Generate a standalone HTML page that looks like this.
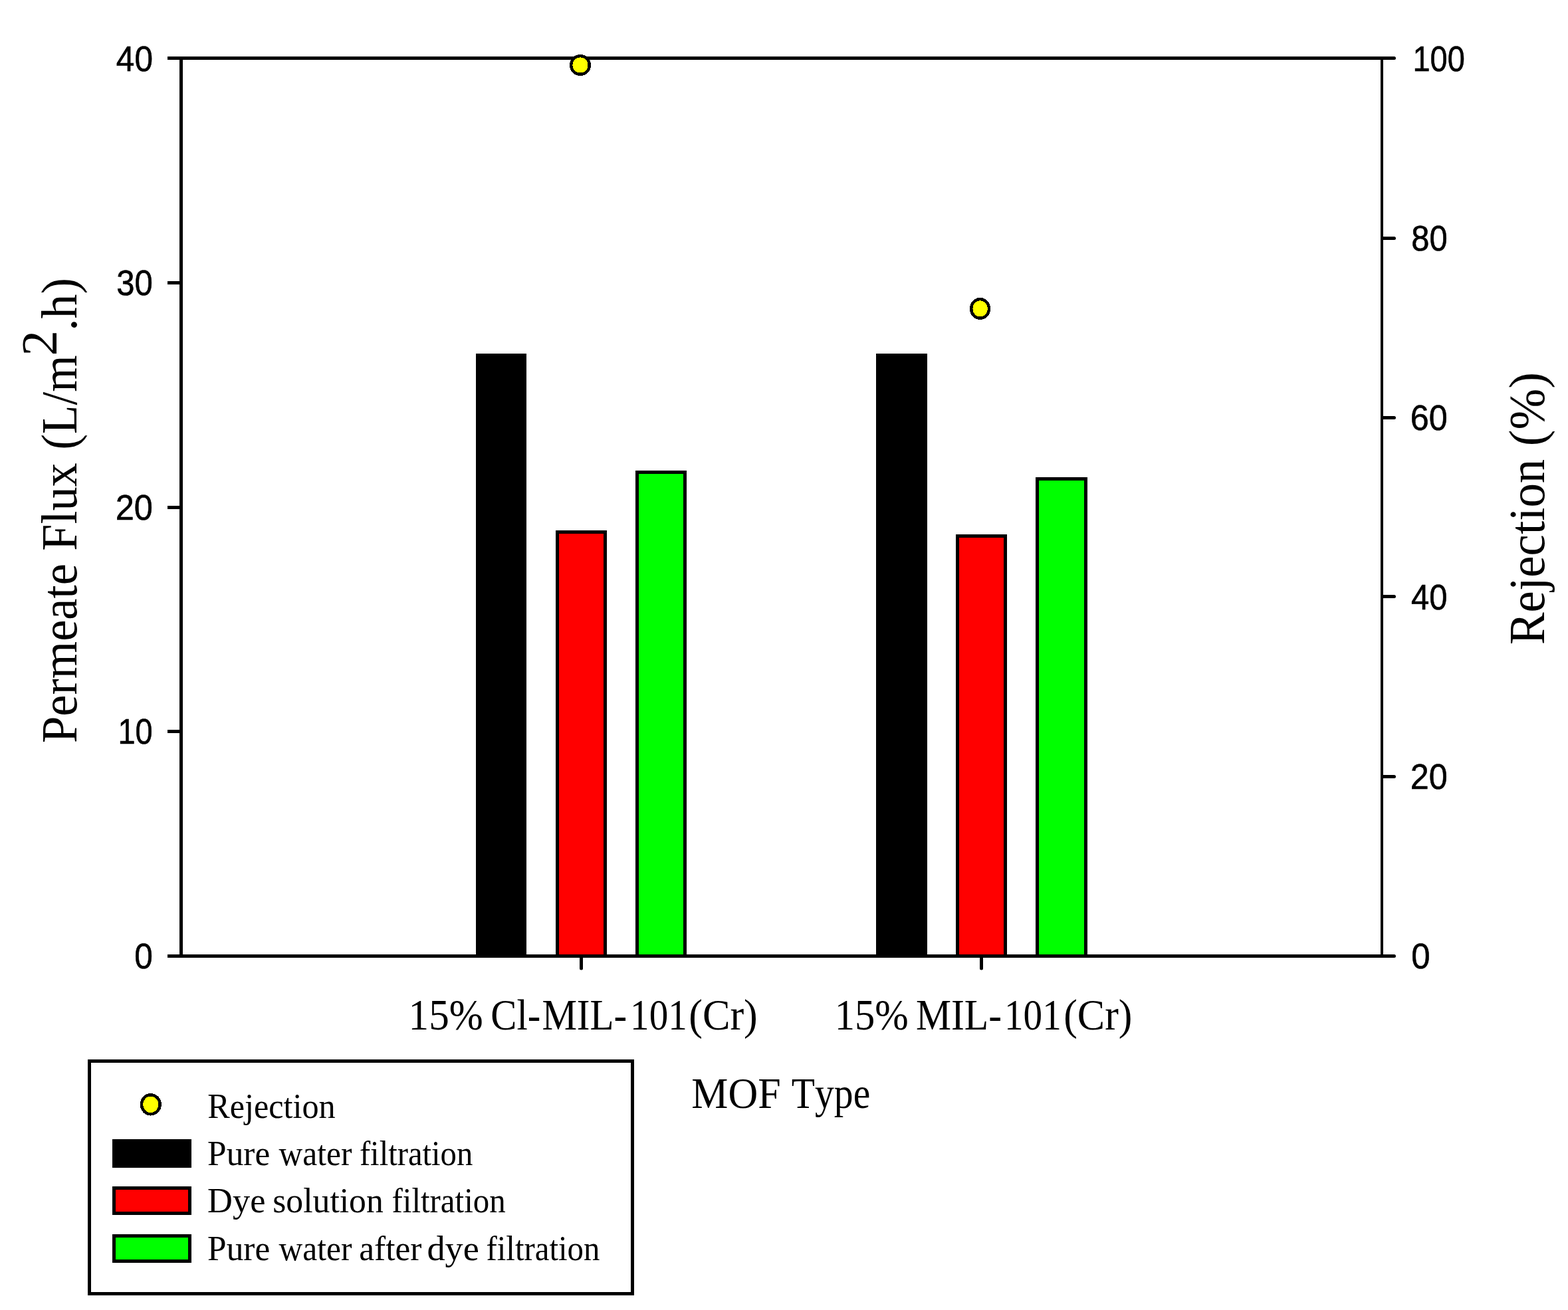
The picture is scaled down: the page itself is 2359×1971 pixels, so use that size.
<!DOCTYPE html>
<html lang="en"><head><meta charset="utf-8"><title>Permeate flux and rejection by MOF type</title>
<style>html,body{margin:0;padding:0;background:#fff;overflow:hidden}svg{display:block}.sans{font-family:"Liberation Sans",Arial,sans-serif;font-size:53px;fill:#000;stroke:#000;stroke-width:0.6px;font-kerning:none}.serif{font-family:"Liberation Serif","Times New Roman",serif;fill:#000;font-kerning:none}</style></head><body>
<svg width="2359" height="1971" viewBox="0 0 2359 1971" shape-rendering="crispEdges">
<rect x="0" y="0" width="2359" height="1971" fill="#fff"/>
<g stroke="#000" stroke-width="5" stroke-linejoin="miter">
<rect x="718.5" y="534.5" width="71" height="904.0" fill="#000"/>
<rect x="838.5" y="800.5" width="72" height="638.0" fill="#f00"/>
<rect x="958.5" y="710.5" width="72" height="728.0" fill="#0f0"/>
<rect x="1320.5" y="534.5" width="72" height="904.0" fill="#000"/>
<rect x="1440.5" y="806.5" width="72" height="632.0" fill="#f00"/>
<rect x="1560.5" y="720.5" width="73" height="718.0" fill="#0f0"/>
</g>
<g stroke="#000" stroke-width="5" fill="none" stroke-linecap="butt">
<line x1="252" y1="87.5" x2="2081" y2="87.5"/>
<line x1="252" y1="1438.5" x2="2081" y2="1438.5"/>
<line x1="272.5" y1="87.5" x2="272.5" y2="1438.5"/>
<line x1="2079.0" y1="87.5" x2="2079.0" y2="1438.5" stroke-width="4"/>
<line x1="252" y1="425.5" x2="272.5" y2="425.5"/>
<line x1="252" y1="763.5" x2="272.5" y2="763.5"/>
<line x1="252" y1="1100.5" x2="272.5" y2="1100.5"/>
</g>
<g stroke="#000" stroke-width="5" fill="none" stroke-linecap="round" shape-rendering="auto">
<line x1="2079.5" y1="87.5" x2="2097.5" y2="87.5"/>
<line x1="2079.5" y1="358.5" x2="2097.5" y2="358.5"/>
<line x1="2079.5" y1="628.5" x2="2097.5" y2="628.5"/>
<line x1="2079.5" y1="897.5" x2="2097.5" y2="897.5"/>
<line x1="2079.5" y1="1168.5" x2="2097.5" y2="1168.5"/>
<line x1="2079.5" y1="1438.5" x2="2097.5" y2="1438.5"/>
<line x1="874.5" y1="1438.5" x2="874.5" y2="1457"/>
<line x1="1476.5" y1="1438.5" x2="1476.5" y2="1457"/>
</g>
<g stroke="#000" stroke-width="4.5" fill="#ff0">
<circle cx="873" cy="98" r="13.8"/>
<ellipse cx="1474.6" cy="464.4" rx="13.4" ry="14.3"/>
</g>
<g class="sans" shape-rendering="auto">
<text x="174.86" y="107.4" textLength="55.07" lengthAdjust="spacingAndGlyphs">40</text>
<text x="175.13" y="444.2" textLength="54.59" lengthAdjust="spacingAndGlyphs">30</text>
<text x="173.66" y="782.2" textLength="56.11" lengthAdjust="spacingAndGlyphs">20</text>
<text x="177.42" y="1119.2" textLength="52.21" lengthAdjust="spacingAndGlyphs">10</text>
<text x="202.36" y="1457.2" textLength="27.57" lengthAdjust="spacingAndGlyphs">0</text>
<text x="2125.42" y="107.3" textLength="78.42" lengthAdjust="spacingAndGlyphs">100</text>
<text x="2123.17" y="377.2" textLength="54.44" lengthAdjust="spacingAndGlyphs">80</text>
<text x="2121.64" y="647.2" textLength="56.03" lengthAdjust="spacingAndGlyphs">60</text>
<text x="2123.07" y="917.2" textLength="54.54" lengthAdjust="spacingAndGlyphs">40</text>
<text x="2121.67" y="1187.2" textLength="56.00" lengthAdjust="spacingAndGlyphs">20</text>
<text x="2123.31" y="1457.2" textLength="28.39" lengthAdjust="spacingAndGlyphs">0</text>
</g>
<g class="serif" shape-rendering="auto">
<text y="1549.2" font-size="65.5"><tspan x="614.62" textLength="112.17" lengthAdjust="spacingAndGlyphs">15%</tspan> <tspan x="738.30" textLength="74.92" lengthAdjust="spacingAndGlyphs">Cl-</tspan><tspan x="815.40" textLength="127.83" lengthAdjust="spacingAndGlyphs">MIL-</tspan><tspan x="948.08" textLength="85.65" lengthAdjust="spacingAndGlyphs">101</tspan><tspan x="1036.17" textLength="103.67" lengthAdjust="spacingAndGlyphs">(Cr)</tspan></text>
<text y="1549.2" font-size="65.5"><tspan x="1255.78" textLength="110.99" lengthAdjust="spacingAndGlyphs">15%</tspan> <tspan x="1377.98" textLength="129.17" lengthAdjust="spacingAndGlyphs">MIL-</tspan><tspan x="1510.98" textLength="85.76" lengthAdjust="spacingAndGlyphs">101</tspan><tspan x="1600.18" textLength="103.25" lengthAdjust="spacingAndGlyphs">(Cr)</tspan></text>
<text y="1666.6" font-size="65"><tspan x="1040.31" textLength="134.32" lengthAdjust="spacingAndGlyphs">MOF</tspan> <tspan x="1190.86" textLength="118.34" lengthAdjust="spacingAndGlyphs">Type</tspan></text>
<text transform="translate(115.2 1116) rotate(-90)" font-size="76"><tspan x="-1.99" textLength="269.91" lengthAdjust="spacingAndGlyphs">Permeate</tspan> <tspan x="287.22" textLength="132.46" lengthAdjust="spacingAndGlyphs">Flux</tspan> <tspan x="439.37" textLength="142.34" lengthAdjust="spacingAndGlyphs">(L/m</tspan><tspan x="580.62" dy="-30.70" textLength="38.42" lengthAdjust="spacingAndGlyphs">2</tspan><tspan x="618.14" dy="30.70" textLength="79.91" lengthAdjust="spacingAndGlyphs">.h)</tspan></text>
<text transform="translate(2323.2 968) rotate(-90)" font-size="76"><tspan x="-2.00" textLength="279.30" lengthAdjust="spacingAndGlyphs">Rejection</tspan> <tspan x="296.84" textLength="111.22" lengthAdjust="spacingAndGlyphs">(%)</tspan></text>
</g>
<rect x="134.5" y="1596.5" width="817" height="350" fill="#fff" stroke="#000" stroke-width="5"/>
<ellipse cx="226.8" cy="1661.8" rx="13.8" ry="14.5" fill="#ff0" stroke="#000" stroke-width="4.5"/>
<g stroke="#000" stroke-width="5">
<rect x="171.5" y="1716.5" width="114" height="38" fill="#000"/>
<rect x="171.5" y="1787.5" width="114" height="38" fill="#f00"/>
<rect x="171.5" y="1859.5" width="114" height="38" fill="#0f0"/>
</g>
<g class="serif" shape-rendering="auto">
<text y="1682.3" font-size="52.3"><tspan x="312.15" textLength="192.61" lengthAdjust="spacingAndGlyphs">Rejection</tspan></text>
<text y="1752.6" font-size="52.3"><tspan x="312.12" textLength="94.06" lengthAdjust="spacingAndGlyphs">Pure</tspan> <tspan x="419.55" textLength="109.88" lengthAdjust="spacingAndGlyphs">water</tspan> <tspan x="540.90" textLength="170.44" lengthAdjust="spacingAndGlyphs">filtration</tspan></text>
<text y="1824.1" font-size="52.3"><tspan x="312.09" textLength="87.33" lengthAdjust="spacingAndGlyphs">Dye</tspan> <tspan x="410.28" textLength="166.50" lengthAdjust="spacingAndGlyphs">solution</tspan> <tspan x="589.49" textLength="171.25" lengthAdjust="spacingAndGlyphs">filtration</tspan></text>
<text y="1896.1" font-size="52.3"><tspan x="312.12" textLength="94.06" lengthAdjust="spacingAndGlyphs">Pure</tspan> <tspan x="419.55" textLength="109.88" lengthAdjust="spacingAndGlyphs">water</tspan> <tspan x="540.19" textLength="94.26" lengthAdjust="spacingAndGlyphs">after</tspan> <tspan x="642.44" textLength="78.45" lengthAdjust="spacingAndGlyphs">dye</tspan> <tspan x="731.50" textLength="170.84" lengthAdjust="spacingAndGlyphs">filtration</tspan></text>
</g>
</svg></body></html>
